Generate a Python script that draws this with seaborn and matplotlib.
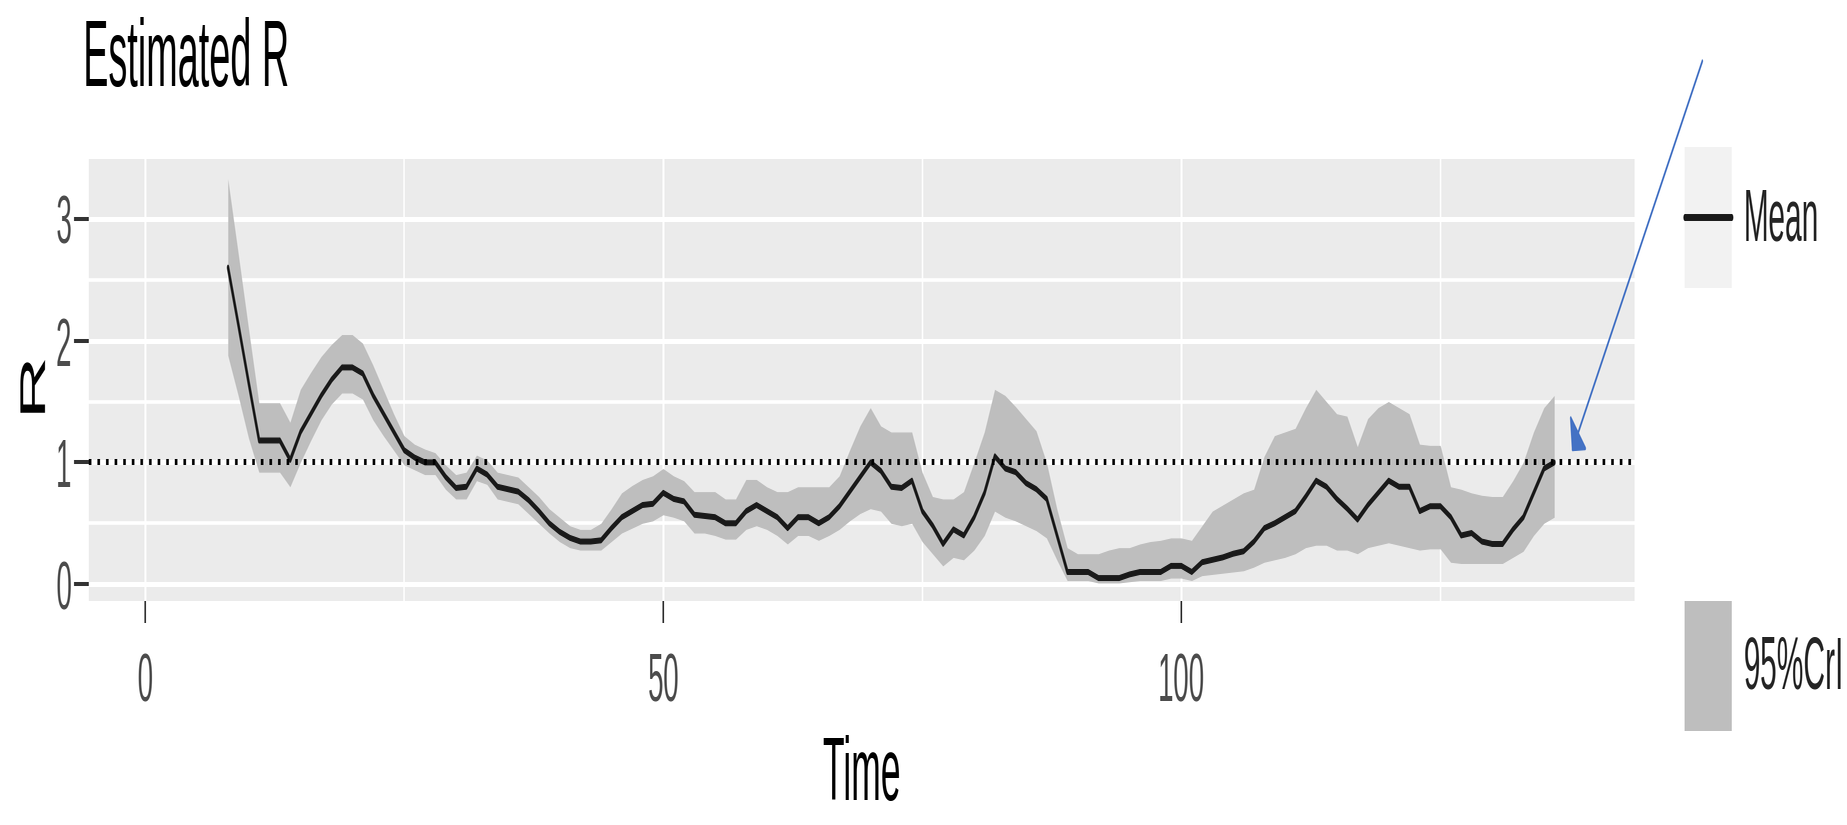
import pandas as pd
import matplotlib
matplotlib.use("Agg")
import matplotlib.pyplot as plt
import seaborn as sns
from matplotlib.ticker import FixedLocator
from matplotlib.lines import Line2D
from matplotlib.patches import Patch
from matplotlib.legend_handler import HandlerTuple, HandlerLine2D
from PIL import Image


# Estimated R, one value per day (end of the sliding window)
t_end = list(range(8, 137))

r_mean = [
    2.60, 2.13, 1.65, 1.18, 1.18, 1.18, 1.02, 1.25, 1.40, 1.55,   # t 8-17
    1.68, 1.78, 1.78, 1.73, 1.55, 1.40, 1.25, 1.10, 1.04, 1.00,   # t 18-27
    1.00, 0.88, 0.79, 0.80, 0.95, 0.90, 0.80, 0.78, 0.76, 0.69,   # t 28-37
    0.60, 0.50, 0.43, 0.38, 0.35, 0.35, 0.36, 0.46, 0.55, 0.60,   # t 38-47
    0.65, 0.66, 0.75, 0.70, 0.68, 0.57, 0.56, 0.55, 0.50, 0.50,   # t 48-57
    0.60, 0.65, 0.60, 0.55, 0.46, 0.55, 0.55, 0.50, 0.55, 0.64,   # t 58-67
    0.76, 0.88, 1.00, 0.93, 0.80, 0.79, 0.85, 0.60, 0.48, 0.33,   # t 68-77
    0.45, 0.40, 0.55, 0.75, 1.05, 0.95, 0.92, 0.83, 0.78, 0.70,   # t 78-87
    0.40, 0.10, 0.10, 0.10, 0.05, 0.05, 0.05, 0.08, 0.10, 0.10,   # t 88-97
    0.10, 0.15, 0.15, 0.10, 0.18, 0.20, 0.22, 0.25, 0.27, 0.35,   # t 98-107
    0.46, 0.50, 0.55, 0.60, 0.72, 0.85, 0.80, 0.70, 0.62, 0.53,   # t 108-117
    0.65, 0.75, 0.85, 0.80, 0.80, 0.60, 0.64, 0.64, 0.55, 0.40,   # t 118-127
    0.42, 0.35, 0.33, 0.33, 0.45, 0.55, 0.75, 0.95, 1.00,         # t 128-136
]

r_high = [
    3.33, 2.72, 2.10, 1.49, 1.49, 1.49, 1.33, 1.60, 1.74, 1.87,
    1.97, 2.05, 2.05, 1.98, 1.80, 1.60, 1.40, 1.22, 1.15, 1.11,
    1.08, 0.98, 0.90, 0.92, 1.06, 1.02, 0.92, 0.90, 0.88, 0.80,
    0.72, 0.62, 0.55, 0.48, 0.45, 0.45, 0.50, 0.62, 0.75, 0.81,
    0.86, 0.89, 0.95, 0.89, 0.85, 0.76, 0.76, 0.76, 0.70, 0.70,
    0.86, 0.86, 0.80, 0.76, 0.76, 0.80, 0.80, 0.80, 0.80, 0.89,
    1.10, 1.30, 1.45, 1.30, 1.25, 1.25, 1.25, 0.92, 0.72, 0.70,
    0.70, 0.76, 1.00, 1.25, 1.60, 1.55, 1.46, 1.36, 1.26, 1.00,
    0.62, 0.30, 0.25, 0.25, 0.25, 0.28, 0.30, 0.30, 0.33, 0.35,
    0.36, 0.38, 0.38, 0.36, 0.48, 0.60, 0.65, 0.70, 0.75, 0.78,
    1.05, 1.22, 1.25, 1.28, 1.45, 1.60, 1.50, 1.40, 1.38, 1.13,
    1.36, 1.45, 1.50, 1.45, 1.40, 1.15, 1.14, 1.14, 0.80, 0.78,
    0.75, 0.73, 0.72, 0.72, 0.85, 1.00, 1.25, 1.45, 1.55,
]

r_low = [
    1.88, 1.55, 1.20, 0.92, 0.92, 0.92, 0.80, 1.00, 1.18, 1.35,
    1.48, 1.57, 1.57, 1.52, 1.35, 1.22, 1.10, 0.98, 0.94, 0.90,
    0.90, 0.78, 0.70, 0.70, 0.85, 0.82, 0.70, 0.68, 0.66, 0.58,
    0.50, 0.42, 0.35, 0.30, 0.28, 0.28, 0.28, 0.35, 0.42, 0.46,
    0.50, 0.52, 0.57, 0.55, 0.52, 0.42, 0.42, 0.40, 0.37, 0.37,
    0.45, 0.48, 0.45, 0.40, 0.33, 0.40, 0.40, 0.36, 0.40, 0.45,
    0.52, 0.58, 0.62, 0.60, 0.50, 0.48, 0.50, 0.35, 0.25, 0.15,
    0.22, 0.20, 0.28, 0.40, 0.60, 0.55, 0.52, 0.48, 0.44, 0.38,
    0.20, 0.03, 0.03, 0.03, 0.01, 0.01, 0.01, 0.02, 0.03, 0.03,
    0.03, 0.05, 0.05, 0.03, 0.07, 0.08, 0.09, 0.10, 0.11, 0.14,
    0.18, 0.20, 0.22, 0.25, 0.30, 0.32, 0.32, 0.28, 0.28, 0.25,
    0.30, 0.32, 0.34, 0.32, 0.30, 0.28, 0.29, 0.29, 0.18, 0.17,
    0.17, 0.17, 0.17, 0.17, 0.22, 0.27, 0.40, 0.50, 0.55,
]

x_major = [0, 50, 100]
x_minor = [25, 75, 125]
y_major = [0, 1, 2, 3]
y_minor = [0.5, 1.5, 2.5]

df = pd.DataFrame({"Time": t_end, "Mean": r_mean, "Lower": r_low, "Upper": r_high})

# the reference picture is squeezed sideways: draw wide, squeeze at the end
SQUASH = 0.40
W, H, DPI = 1847, 825, 100


class MidLine(HandlerLine2D):
    # put the key line in the middle of the key box (ggplot style)
    def create_artists(self, legend, orig_handle, xdescent, ydescent, width, height, fontsize, trans):
        arts = super().create_artists(legend, orig_handle, xdescent, ydescent,
                                      width, height, fontsize, trans)
        for a in arts:
            a.set_ydata([height / 2 - ydescent] * len(a.get_ydata()))
        return arts


sns.set_theme(style="darkgrid")
plt.rcParams["font.family"] = ["Liberation Sans", "DejaVu Sans"]

fig = plt.figure(figsize=(W / SQUASH / DPI, H / DPI), dpi=DPI)
fig.patch.set_facecolor("white")
ax = fig.add_axes([0.048, 0.272, 0.837, 0.535])
ax.set_facecolor("#EBEBEB")
for sp in ax.spines.values():
    sp.set_visible(False)

# credible interval + mean + threshold
ax.fill_between(df["Time"], df["Lower"], df["Upper"], color="#BEBEBE", linewidth=0, zorder=2)
sns.lineplot(data=df, x="Time", y="Mean", ax=ax, color="#1A1A1A", linewidth=4.3, zorder=3)
ax.axhline(1, color="black", linewidth=4.3, linestyle=(0, (1.1, 2.5)), zorder=4)

ax.set_xlim(-5.45, 143.75)
ax.set_ylim(-0.135, 3.49)
ax.xaxis.set_major_locator(FixedLocator(x_major))
ax.xaxis.set_minor_locator(FixedLocator(x_minor))
ax.yaxis.set_major_locator(FixedLocator(y_major))
ax.yaxis.set_minor_locator(FixedLocator(y_minor))
ax.set_axisbelow(True)
ax.grid(which="major", color="white", linewidth=3.6)
ax.grid(which="minor", color="white", linewidth=2.6)

ax.tick_params(which="major", bottom=True, left=True, color="#333333", width=2.9,
               labelcolor="#4D4D4D", labelsize=50)
ax.tick_params(axis="y", which="major", length=27, pad=4)
ax.tick_params(axis="x", which="major", length=16, pad=21)
ax.tick_params(which="minor", length=0)

ax.set_xlabel("Time", fontsize=64, color="black")
ax.set_ylabel("R", fontsize=64, color="black")
ax.xaxis.set_label_coords(0.5, -0.40)
ax.xaxis.label.set_va("center")
ax.yaxis.set_label_coords(-0.036, 0.5)
ax.yaxis.label.set_va("center")

fig.text(0.045, 0.926, "Estimated R", fontsize=68, color="black", ha="left", va="center")

# legend: two separate keys like ggplot
mean_key = (Patch(facecolor="#F2F2F2", edgecolor="none"),
            Line2D([], [], color="#1A1A1A", linewidth=5))
fig.legend([mean_key], ["Mean"],
           handler_map={tuple: HandlerTuple(ndivide=1, pad=0), Line2D: MidLine()},
           loc="upper left", bbox_to_anchor=(0.912, 0.822), frameon=False, fontsize=54,
           handlelength=1.57, handleheight=2.52, handletextpad=0.4, borderpad=0, borderaxespad=0)
fig.legend([Patch(facecolor="#BEBEBE", edgecolor="none")], ["95%CrI"],
           loc="upper left", bbox_to_anchor=(0.912, 0.272), frameon=False, fontsize=54,
           handlelength=1.57, handleheight=2.29, handletextpad=0.4, borderpad=0, borderaxespad=0)

# blue arrow pointing at the last estimate
ax.annotate("", xy=(0.851, 0.453), xytext=(0.9216, 0.926),
            xycoords="figure fraction", textcoords="figure fraction",
            arrowprops=dict(arrowstyle="-|>,head_length=0.4,head_width=0.45",
                            color="#4472C4", lw=2.6, mutation_scale=38,
                            shrinkA=0, shrinkB=0),
            annotation_clip=False)

fig.savefig("out.png", dpi=DPI)
Image.open("out.png").resize((W, H), Image.LANCZOS).save("out.png")
